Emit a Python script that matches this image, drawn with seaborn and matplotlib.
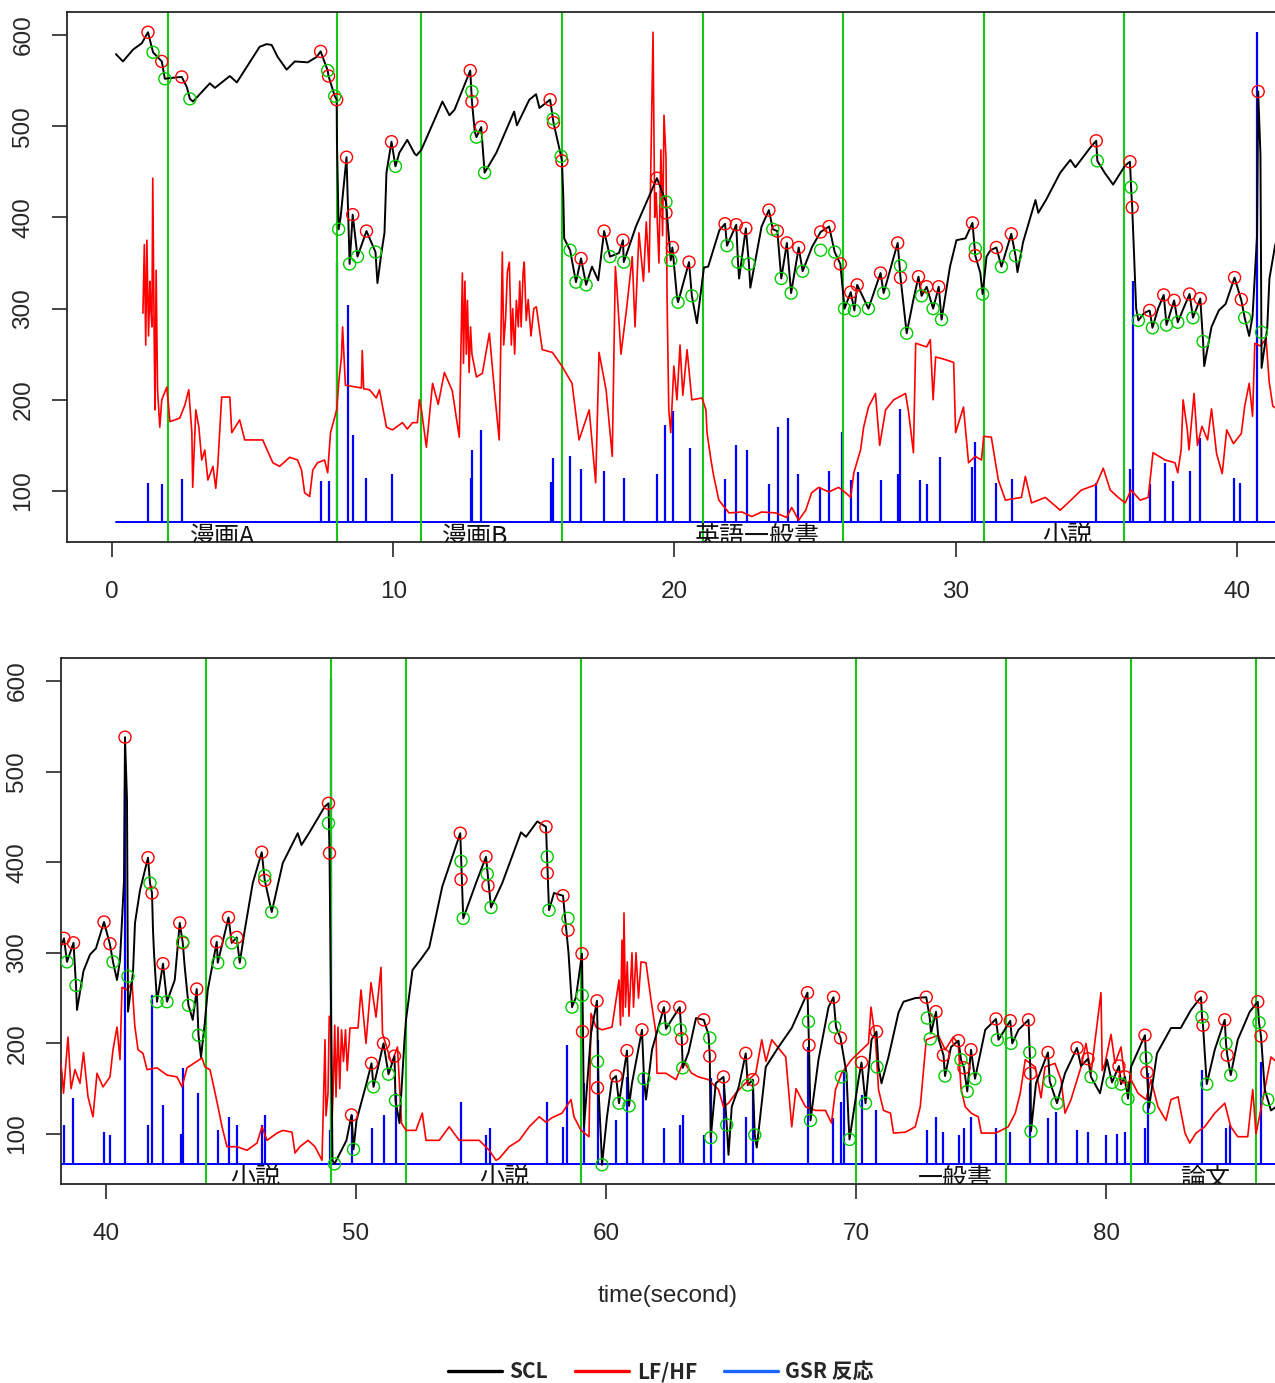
import numpy as np
import pandas as pd
import matplotlib
matplotlib.use("Agg")
import matplotlib.pyplot as plt
from matplotlib.lines import Line2D
import seaborn as sns

# ---------------- data ----------------
# skin conductance level (SCL)
scl_t = [0.14, 0.39, 0.75, 1.06, 1.28, 1.46, 1.77, 1.88, 2.13, 2.48, 2.66, 2.77, 2.88, 3.48, 3.66, 4.19, 4.44,
         5.25, 5.5, 5.68, 5.89, 6.21, 6.5, 6.96, 7.28, 7.42, 7.67, 7.7, 7.92, 7.99, 8.0, 8.06, 8.13, 8.34,
         8.45, 8.56, 8.73, 9.05, 9.37, 9.44, 9.58, 9.69, 9.76, 9.94, 10.08, 10.22, 10.5, 10.76, 10.83, 11.0,
         11.75, 12.0, 12.18, 12.74, 12.8, 12.9, 12.96, 13.13, 13.25, 13.67, 14.3, 14.4, 14.84, 15.08, 15.2,
         15.58, 15.7, 15.97, 16.0, 16.05, 16.08, 16.29, 16.5, 16.68, 16.86, 17.07, 17.29, 17.5, 17.71, 18.03,
         18.17, 18.2, 18.63, 19.0, 19.38, 19.7, 19.87, 19.93, 20.09, 20.13, 20.52, 20.62, 20.8, 21.05, 21.2,
         21.6, 21.8, 21.87, 22.2, 22.26, 22.3, 22.54, 22.65, 22.7, 23.1, 23.36, 23.5, 23.66, 23.8, 24.0, 24.15,
         24.42, 24.56, 24.9, 25.2, 25.5, 25.7, 25.9, 26.05, 26.27, 26.4, 26.5, 26.9, 27.33, 27.44, 27.94,
         28.04, 28.26, 28.5, 28.68, 28.79, 28.97, 29.2, 29.4, 29.5, 29.8, 30.03, 30.35, 30.6, 30.7, 30.88,
         30.96, 31.1, 31.24, 31.45, 31.63, 31.98, 32.13, 32.2, 32.4, 32.84, 32.94, 33.23, 33.72, 34.08, 34.26,
         34.8, 35.0, 35.04, 35.3, 35.6, 36.03, 36.2, 36.24, 36.28, 36.35, 36.42, 36.5, 36.7, 36.9, 37.0, 37.2,
         37.4, 37.5, 37.77, 37.9, 38.1, 38.32, 38.44, 38.7, 38.8, 38.84, 39.1, 39.36, 39.6, 39.92, 40.16,
         40.28, 40.44, 40.56, 40.72, 40.76, 40.84, 40.88, 41.08, 41.16, 41.36, 41.68, 41.76, 41.84, 41.88,
         41.92, 42.04, 42.28, 42.44, 42.75, 42.95, 43.07, 43.15, 43.3, 43.47, 43.63, 43.7, 43.8, 43.95, 44.07,
         44.43, 44.47, 44.9, 45.03, 45.23, 45.35, 45.55, 45.87, 46.23, 46.35, 46.63, 47.07, 47.47, 47.67,
         47.82, 48.14, 48.74, 48.9, 48.94, 49.06, 49.14, 49.62, 49.82, 49.9, 50.02, 50.42, 50.62, 50.7, 51.1,
         51.3, 51.54, 51.58, 51.74, 51.94, 52.0, 52.26, 52.65, 52.93, 53.45, 54.17, 54.29, 54.8, 55.2, 55.4,
         55.85, 56.6, 56.8, 57.25, 57.6, 57.72, 57.92, 58.28, 58.5, 58.64, 58.8, 59.04, 59.08, 59.12, 59.4,
         59.64, 59.7, 59.8, 59.84, 60.04, 60.24, 60.4, 60.52, 60.84, 60.92, 61.04, 61.44, 61.52, 61.6, 61.84,
         62.32, 62.4, 62.6, 62.95, 63.03, 63.07, 63.3, 63.6, 63.91, 64.1, 64.15, 64.19, 64.39, 64.7, 64.83,
         64.9, 65.03, 65.31, 65.59, 65.67, 65.87, 65.95, 66.03, 66.39, 66.9, 67.43, 68.06, 68.12, 68.18, 68.5,
         68.9, 69.1, 69.2, 69.38, 69.62, 69.7, 69.74, 70.1, 70.22, 70.38, 70.62, 70.82, 70.9, 71.02, 71.3,
         71.7, 71.9, 72.37, 72.81, 72.95, 73.0, 73.2, 73.3, 73.5, 73.56, 73.8, 74.1, 74.2, 74.32, 74.45, 74.6,
         74.76, 75.17, 75.6, 75.7, 76.17, 76.25, 76.5, 76.9, 76.95, 76.98, 77.0, 77.2, 77.68, 77.75, 78.04,
         78.36, 78.84, 79.0, 79.28, 79.4, 79.76, 80.04, 80.24, 80.52, 80.6, 80.76, 80.88, 81.0, 81.56, 81.6,
         81.64, 81.72, 82.04, 82.6, 82.99, 83.4, 83.8, 83.84, 83.88, 84.03, 84.35, 84.75, 84.8, 84.85, 84.99,
         85.27, 85.75, 86.07, 86.12, 86.2, 86.35, 86.47, 86.6, 86.8]
scl_v = [579, 571, 584, 591, 603, 581, 571, 552, 553, 554, 543, 530, 527, 547, 542, 555, 548,
         587, 590, 589, 576, 562, 571, 570, 576, 582, 561, 555, 533, 529, 482, 387, 400, 466,
         349, 403, 357, 385, 362, 328, 361, 383, 449, 483, 456, 471, 485, 470, 468, 474,
         527, 512, 518, 561, 527, 494, 488, 499, 449, 471, 516, 501, 529, 535, 520,
         529, 504, 467, 462, 422, 377, 364, 329, 355, 326, 346, 331, 385, 357, 361,
         375, 351, 390, 416, 443, 417, 353, 367, 313, 307, 351, 314, 284, 345, 346,
         386, 393, 369, 392, 351, 333, 388, 349, 323, 390, 408, 387, 385, 333, 372, 317,
         367, 341, 368, 384, 390, 362, 349, 300, 318, 298, 326, 300, 339, 317, 372,
         334, 273, 310, 335, 314, 324, 300, 324, 288, 346, 375, 377, 394, 358, 339,
         316, 357, 364, 367, 346, 382, 358, 340, 373, 419, 405, 420, 449, 463, 455,
         477, 484, 462, 449, 436, 457, 461, 433, 411, 357, 300, 287, 295, 298, 279, 300,
         315, 282, 309, 285, 300, 316, 290, 311, 264, 237, 280, 298, 305, 334, 309,
         290, 270, 292, 380, 538, 469, 235, 278, 333, 369, 405, 377, 366, 325,
         300, 246, 288, 246, 270, 333, 311, 284, 242, 226, 260, 209, 185, 222, 259,
         312, 289, 339, 311, 317, 289, 325, 377, 411, 380, 345, 399, 421, 432,
         419, 433, 461, 465, 410, 71, 67, 93, 121, 83, 115, 156, 178, 152, 200,
         166, 186, 137, 112, 204, 226, 281, 295, 306, 373, 432, 338, 377, 406, 350,
         377, 433, 428, 445, 439, 347, 366, 363, 300, 240, 251, 299, 213, 108, 211,
         247, 150, 93, 66, 119, 160, 164, 134, 192, 131, 156, 215, 161, 138, 193,
         240, 216, 225, 240, 205, 173, 190, 228, 226, 210, 186, 96, 156, 163, 110,
         77, 130, 152, 189, 154, 160, 99, 85, 174, 196, 217, 256, 198, 115, 182,
         240, 251, 218, 206, 167, 115, 94, 160, 179, 134, 204, 213, 174, 156, 185,
         234, 246, 250, 251, 228, 211, 235, 205, 187, 164, 196, 203, 182, 173, 147, 193,
         161, 215, 227, 204, 225, 200, 215, 226, 190, 167, 103, 156, 190, 158, 134,
         167, 195, 175, 183, 163, 145, 182, 157, 175, 155, 163, 139, 174, 209, 184,
         168, 129, 189, 217, 217, 237, 251, 229, 220, 155, 193, 226, 200, 187, 165,
         204, 235, 246, 223, 208, 149, 138, 126, 130]

# detected SCL peaks (red) and troughs (green)
peak_t = [1.28, 1.77, 2.48, 7.42, 7.7, 7.99, 8.34, 8.56, 9.05, 9.94, 12.74, 12.8, 13.13, 15.58, 15.7, 16.0,
          16.68, 17.5, 18.17, 19.38, 19.7, 19.93, 20.52, 21.8, 22.2, 22.54, 23.36, 23.66, 24.0, 24.42, 25.2,
          25.5, 25.9, 26.27, 26.5, 27.33, 27.94, 28.04, 28.68, 28.97, 29.4, 30.6, 30.7, 31.45, 31.98, 35.0,
          36.2, 36.28, 36.9, 37.4, 37.77, 38.32, 38.7, 39.92, 40.16, 40.76, 41.68, 41.84, 42.28, 42.95,
          43.07, 43.63, 44.43, 44.9, 45.23, 46.23, 46.35, 48.9, 48.94, 49.82, 50.62, 51.1, 51.54, 54.17,
          54.2, 55.2, 55.28, 57.6, 57.65, 58.28, 58.48, 59.04, 59.06, 59.64, 59.66, 60.4, 60.84, 61.44,
          62.32, 62.95, 63.03, 63.91, 64.15, 64.7, 65.59, 65.87, 68.06, 68.12, 69.1, 69.38, 70.22, 70.82,
          72.81, 73.2, 73.5, 74.1, 74.32, 74.6, 75.6, 76.17, 76.9, 76.98, 77.68, 78.84, 79.28, 80.52,
          80.76, 81.56, 81.64, 83.8, 83.88, 84.75, 84.85, 86.07, 86.2]
peak_v = [603, 571, 554, 582, 555, 529, 466, 403, 385, 483, 561, 527, 499, 529, 504, 462,
          355, 385, 375, 443, 405, 367, 351, 393, 392, 388, 408, 385, 372, 367, 384,
          390, 349, 318, 326, 339, 372, 334, 335, 324, 324, 394, 358, 367, 382, 484,
          461, 411, 298, 315, 309, 316, 311, 334, 310, 538, 405, 366, 288, 333,
          311, 260, 312, 339, 317, 411, 380, 465, 410, 121, 178, 200, 186, 432,
          381, 406, 374, 439, 388, 363, 325, 299, 213, 247, 151, 164, 192, 215,
          240, 240, 205, 226, 186, 163, 189, 160, 256, 198, 251, 206, 179, 213,
          251, 235, 187, 203, 173, 193, 227, 225, 226, 167, 190, 195, 183, 175,
          163, 209, 168, 251, 220, 226, 187, 246, 208]
trough_t = [1.46, 1.88, 2.77, 7.67, 7.92, 8.06, 8.45, 8.73, 9.37, 10.08, 12.8, 12.96, 13.25, 15.69, 15.97,
            16.29, 16.5, 16.86, 17.71, 18.2, 19.7, 19.87, 20.13, 20.62, 21.87, 22.26, 22.65, 23.5, 23.8,
            24.15, 24.56, 25.2, 25.7, 26.05, 26.4, 26.9, 27.44, 28.04, 28.26, 28.79, 29.2, 29.5, 30.7,
            30.96, 31.63, 32.13, 35.04, 36.24, 36.5, 37.0, 37.5, 37.9, 38.44, 38.8, 40.28, 40.88, 41.76,
            42.04, 42.44, 43.07, 43.3, 43.7, 44.47, 45.03, 45.35, 46.35, 46.63, 48.9, 49.14, 49.9, 50.7,
            51.3, 51.58, 54.2, 54.29, 55.25, 55.4, 57.65, 57.72, 58.48, 58.64, 59.05, 59.66, 59.84, 60.52,
            60.92, 61.52, 62.34, 62.97, 63.07, 64.15, 64.19, 64.83, 65.67, 65.95, 68.1, 68.18, 69.15,
            69.42, 69.74, 70.38, 70.84, 72.85, 72.97, 73.56, 74.2, 74.45, 74.76, 75.65, 76.2, 76.95, 77.0,
            77.75, 78.04, 79.4, 80.24, 80.6, 80.88, 81.6, 81.72, 83.84, 84.03, 84.8, 84.99, 86.12, 86.47]
trough_v = [581, 552, 530, 561, 533, 387, 349, 357, 362, 456, 538, 488, 449, 508, 467,
            364, 329, 326, 357, 351, 417, 353, 307, 314, 369, 351, 349, 387, 333,
            317, 341, 364, 362, 300, 298, 300, 317, 347, 273, 314, 300, 288, 366,
            316, 346, 358, 462, 433, 287, 279, 282, 285, 290, 264, 290, 274, 377,
            246, 246, 312, 242, 209, 289, 311, 289, 385, 345, 443, 67, 83, 152,
            166, 137, 401, 338, 387, 350, 406, 347, 338, 240, 253, 180, 66, 134,
            131, 161, 216, 215, 173, 206, 96, 110, 154, 99, 224, 115, 218,
            163, 94, 134, 174, 228, 205, 164, 182, 147, 161, 204, 200, 190, 103,
            158, 134, 163, 157, 155, 139, 184, 129, 229, 155, 200, 165, 223, 138]

# heart-rate variability ratio LF/HF
lfhf_t = [1.1, 1.15, 1.2, 1.24, 1.3, 1.35, 1.38, 1.42, 1.45, 1.5, 1.53, 1.57, 1.62, 1.7, 1.77, 1.95, 2.06,
          2.41, 2.59, 2.73, 2.84, 2.87, 2.98, 3.09, 3.19, 3.3, 3.41, 3.59, 3.69, 3.76, 3.9, 4.19, 4.26, 4.54,
          4.72, 5.36, 5.72, 5.96, 6.32, 6.6, 6.74, 6.85, 7.03, 7.14, 7.31, 7.56, 7.67, 7.77, 7.99, 8.06, 8.16,
          8.2, 8.3, 8.87, 8.9, 8.95, 9.16, 9.4, 9.51, 9.76, 9.97, 10.33, 10.5, 10.69, 10.86, 10.93, 11.0, 11.18,
          11.4, 11.6, 11.82, 12.1, 12.35, 12.46, 12.5, 12.55, 12.6, 12.64, 12.7, 12.75, 12.8, 12.96, 13.17,
          13.42, 13.6, 13.77, 13.88, 13.93, 14.0, 14.06, 14.13, 14.2, 14.25, 14.32, 14.38, 14.45, 14.5, 14.55,
          14.62, 14.66, 14.73, 14.8, 14.9, 15.0, 15.09, 15.3, 15.66, 16.0, 16.36, 16.61, 16.97, 17.2, 17.32,
          17.57, 17.79, 17.9, 17.96, 18.1, 18.3, 18.5, 18.6, 18.74, 18.9, 19.0, 19.1, 19.24, 19.3, 19.35,
          19.45, 19.52, 19.58, 19.63, 19.7, 19.74, 19.8, 19.87, 19.98, 20.09, 20.2, 20.3, 20.45, 20.62, 20.98,
          21.12, 21.16, 21.3, 21.4, 21.58, 21.94, 22.4, 22.75, 23.1, 23.6, 23.99, 24.17, 24.42, 24.67, 24.88,
          25.13, 25.49, 25.84, 26.09, 26.27, 26.38, 26.62, 26.73, 26.9, 27.15, 27.3, 27.51, 27.8, 28.22,
          28.33, 28.5, 28.58, 28.97, 29.1, 29.2, 29.29, 29.64, 29.93, 30.0, 30.28, 30.46, 30.7, 30.92, 31.0,
          31.27, 31.52, 31.77, 32.34, 32.48, 32.7, 33.19, 33.72, 34.1, 34.47, 35.0, 35.25, 35.5, 35.78, 36.03,
          36.24, 36.56, 36.85, 37.02, 37.45, 37.8, 37.9, 38.02, 38.09, 38.24, 38.3, 38.48, 38.6, 38.76, 38.96,
          39.1, 39.28, 39.48, 39.64, 39.88, 40.16, 40.28, 40.44, 40.56, 40.64, 40.84, 41.04, 41.15, 41.28,
          41.48, 41.64, 42.04, 42.44, 42.84, 43.04, 43.24, 43.84, 43.96, 44.16, 44.28, 44.48, 44.64, 44.84,
          45.24, 45.64, 46.04, 46.24, 46.44, 46.84, 47.08, 47.44, 47.56, 47.76, 48.08, 48.36, 48.64, 48.76,
          48.8, 48.88, 48.93, 49.0, 49.05, 49.1, 49.15, 49.2, 49.28, 49.35, 49.42, 49.5, 49.58, 49.65, 49.76,
          50.08, 50.2, 50.4, 50.6, 50.8, 51.0, 51.06, 51.42, 51.66, 51.82, 52.0, 52.4, 52.65, 52.8, 53.33,
          53.73, 54.13, 54.93, 55.33, 55.6, 55.73, 56.13, 56.53, 56.93, 57.33, 57.6, 57.84, 58.24, 58.6, 58.72,
          59.0, 59.32, 59.4, 59.6, 59.84, 60.24, 60.52, 60.58, 60.64, 60.68, 60.72, 60.78, 60.85, 60.92,
          61.04, 61.1, 61.2, 61.3, 61.4, 61.6, 61.8, 62.0, 62.04, 62.4, 62.8, 63.1, 63.43, 63.7, 64.1, 64.5,
          64.7, 64.9, 65.19, 65.71, 65.99, 66.23, 66.4, 66.63, 67.19, 67.43, 67.6, 67.98, 68.38, 68.78, 69.02,
          69.18, 69.42, 69.82, 70.5, 70.6, 70.78, 70.9, 71.1, 71.38, 71.5, 71.98, 72.37, 72.57, 72.69, 72.81,
          73.29, 73.57, 73.89, 74.09, 74.2, 74.37, 74.61, 74.89, 75.01, 75.57, 75.81, 76.09, 76.37, 76.57,
          76.77, 77.17, 77.4, 77.56, 77.96, 78.2, 78.36, 78.6, 79.0, 79.2, 79.4, 79.8, 79.85, 79.96, 80.2,
          80.36, 80.6, 80.8, 81.0, 81.28, 81.6, 81.8, 82.08, 82.4, 82.6, 82.88, 83.16, 83.35, 83.6, 83.95,
          84.35, 84.75, 84.99, 85.27, 85.67, 85.87, 86.0, 86.35, 86.6, 86.8]
lfhf_v = [295, 370, 260, 375, 270, 330, 300, 280, 443, 270, 189, 342, 211, 170, 200, 214, 176,
          180, 194, 211, 164, 104, 189, 170, 134, 145, 112, 127, 103, 127, 203, 203, 164, 178,
          156, 156, 131, 127, 137, 134, 123, 98, 94, 123, 131, 134, 120, 164, 189, 218, 247,
          280, 216, 213, 254, 212, 211, 202, 211, 170, 167, 175, 168, 175, 175, 200, 190, 148,
          218, 195, 230, 210, 159, 339, 240, 330, 250, 309, 230, 280, 250, 225, 229,
          273, 210, 156, 362, 260, 291, 340, 351, 260, 300, 250, 309, 280, 330, 280,
          340, 351, 287, 310, 270, 300, 302, 255, 252, 237, 218, 156, 189, 109, 252,
          211, 138, 346, 320, 250, 300, 357, 280, 383, 330, 395, 340, 603, 400, 427,
          350, 474, 380, 512, 466, 309, 189, 164, 237, 200, 260, 205, 255, 200, 202,
          189, 164, 134, 116, 90, 76, 77, 72, 77, 76, 71, 82, 68, 79, 98,
          104, 99, 104, 98, 93, 120, 145, 170, 192, 207, 150, 189, 200, 207,
          186, 142, 262, 258, 266, 200, 247, 244, 241, 164, 192, 131, 138, 134, 160,
          159, 112, 90, 93, 116, 87, 93, 79, 90, 101, 107, 125, 101, 93, 87,
          101, 90, 93, 142, 134, 131, 120, 145, 200, 167, 145, 207, 150, 171, 156,
          190, 141, 119, 167, 152, 163, 193, 218, 182, 262, 259, 267, 220, 193,
          189, 171, 173, 165, 163, 152, 173, 184, 174, 171, 156, 130, 108, 86,
          86, 82, 90, 108, 93, 101, 104, 102, 79, 86, 93, 86, 71, 204,
          120, 145, 230, 218, 120, 160, 220, 141, 218, 150, 215, 180, 215, 170, 217,
          217, 259, 200, 267, 229, 284, 211, 178, 196, 112, 104, 104, 123, 93, 93,
          108, 93, 93, 82, 71, 73, 86, 93, 108, 119, 113, 118, 123, 138, 119,
          104, 97, 233, 218, 215, 218, 270, 220, 314, 230, 344, 240, 290, 230,
          300, 240, 300, 250, 290, 289, 248, 211, 167, 167, 160, 180, 167, 163, 160, 149,
          130, 134, 145, 160, 167, 204, 180, 204, 185, 108, 150, 130, 126, 126, 112,
          149, 167, 182, 200, 240, 204, 149, 126, 123, 101, 102, 108, 130, 167, 204,
          209, 193, 207, 200, 150, 130, 123, 119, 101, 101, 104, 108, 123, 145,
          182, 174, 140, 174, 178, 160, 123, 138, 174, 200, 167, 256, 170, 178, 210,
          178, 196, 150, 160, 145, 138, 160, 130, 115, 138, 141, 101, 90, 101, 108,
          123, 134, 108, 97, 97, 149, 100, 149, 185, 180]

# GSR responses (spike heights), one list per panel
gsr_top_t = [1.28, 1.77, 2.48, 7.45, 7.7, 7.99, 8.38, 8.56, 9.05, 9.94, 12.78, 12.82, 13.13, 15.62, 15.69,
             16.29, 16.68, 17.5, 18.2, 19.38, 19.67, 19.95, 20.55, 21.8, 22.19, 22.58, 23.36, 23.68, 24.03,
             24.39, 25.17, 25.49, 25.95, 26.27, 26.52, 27.33, 27.94, 28.04, 28.72, 28.97, 29.43, 30.6, 30.7,
             31.45, 32.02, 35.0, 36.21, 36.32, 36.92, 37.45, 37.73, 38.34, 38.69, 39.9, 40.11, 40.72]
gsr_top_v = [109, 108, 113, 111, 111, 351, 304, 161, 114, 119, 114, 145, 167, 110, 136,
             138, 124, 122, 114, 119, 172, 188, 147, 113, 150, 145, 108, 170, 180,
             119, 104, 122, 165, 112, 121, 112, 119, 190, 112, 108, 137, 126, 154,
             109, 113, 109, 124, 330, 108, 131, 111, 122, 158, 114, 109, 603]
gsr_bot_t = [38.32, 38.68, 39.92, 40.16, 40.76, 41.68, 41.84, 42.28, 43.0, 43.07, 43.67, 44.47, 44.91, 45.23,
             46.23, 46.35, 48.94, 48.98, 49.82, 50.62, 51.1, 51.58, 54.21, 55.2, 55.37, 57.65, 58.28, 58.44,
             59.12, 59.68, 60.4, 60.84, 61.48, 62.32, 62.95, 63.07, 63.91, 64.19, 64.71, 65.59, 65.87, 68.1,
             69.1, 69.38, 69.5, 70.22, 70.82, 72.85, 73.21, 73.49, 74.13, 74.33, 74.61, 75.61, 76.17, 76.97,
             77.68, 78.0, 78.84, 79.28, 80.0, 80.44, 80.76, 81.56, 81.68, 83.83, 84.79, 84.95, 86.2]
gsr_bot_v = [110, 140, 102, 99, 482, 110, 253, 132, 100, 173, 145, 104, 119, 110,
             110, 121, 104, 603, 121, 107, 121, 145, 135, 99, 107, 135, 108, 198,
             156, 204, 115, 163, 167, 107, 110, 121, 99, 162, 156, 119, 160, 196,
             118, 135, 171, 143, 126, 104, 119, 102, 99, 107, 119, 107, 102, 156,
             118, 124, 104, 102, 99, 100, 102, 107, 167, 171, 107, 110, 179]
gsr_base = 66.5

# task boundaries and task names
bounds_top = [2, 8, 11, 16, 21, 26, 31, 36]
bounds_bot = [44, 49, 52, 59, 70, 76, 81, 86]
task_names_top = ["漫画A", "漫画B", "英語一般書", "小説"]
task_pos_top = [3.95, 12.93, 22.93, 33.97]
task_names_bot = ["小説", "小説", "一般書", "論文"]
task_pos_bot = [45.95, 55.93, 73.97, 83.95]

xticks_top = [0, 10, 20, 30, 40]
xticks_bot = [40, 50, 60, 70, 80]
yticks = [100, 200, 300, 400, 500, 600]

# ---------------- drawing ----------------
sns.set_style("white")
plt.rcParams["font.family"] = ["Liberation Sans", "DejaVu Sans"]

W, H = 1275, 1383
fig = plt.figure(figsize=(W / 100, H / 100), dpi=100)

scl = pd.DataFrame({"t": scl_t, "v": scl_v})
lfhf = pd.DataFrame({"t": lfhf_t, "v": lfhf_v})
peaks = pd.DataFrame({"t": peak_t, "v": peak_v})
troughs = pd.DataFrame({"t": trough_t, "v": trough_v})
base_df = pd.DataFrame({"t": [scl_t[0], scl_t[-1]], "v": [gsr_base, gsr_base]})

GREEN = "#14c814"
TICK_COL = "#262626"


def make_axes(left_px, top_px, bottom_px):
    right_px = W + 4
    return fig.add_axes([left_px / W, 1 - bottom_px / H,
                         (right_px - left_px) / W, (bottom_px - top_px) / H])


def draw_panel(ax, xlim, ylim, xticks, bounds, gsr_t, gsr_v, names, name_pos):
    # GSR spikes with their baseline
    ax.vlines(gsr_t, gsr_base, gsr_v, colors="#0000ff", linewidth=1.6, zorder=2)
    sns.lineplot(data=base_df, x="t", y="v", ax=ax, color="#0000ff", linewidth=1.4,
                 estimator=None, sort=False, zorder=2)
    # task boundaries
    for b in bounds:
        ax.axvline(b, color=GREEN, linewidth=1.5, zorder=2.5)
    # LF/HF and SCL traces
    sns.lineplot(data=lfhf, x="t", y="v", ax=ax, color="#ff0000", linewidth=1.2,
                 estimator=None, sort=False, zorder=3)
    sns.lineplot(data=scl, x="t", y="v", ax=ax, color="#000000", linewidth=1.4,
                 estimator=None, sort=False, zorder=4)
    # peak / trough markers
    sns.scatterplot(data=peaks, x="t", y="v", ax=ax, marker="o", s=75,
                    facecolors="none", edgecolors="#ff0000", linewidths=1.0, zorder=5)
    sns.scatterplot(data=troughs, x="t", y="v", ax=ax, marker="o", s=75,
                    facecolors="none", edgecolors="#00cc00", linewidths=1.0, zorder=5)
    # task names sit on the bottom edge and are cut by it
    for name, pos in zip(names, name_pos):
        ax.text(pos, 50, name, ha="center", va="center", fontsize=18, color="#111111",
                family=["Noto Sans CJK JP", "DejaVu Sans"], clip_on=True, zorder=6)

    ax.set_xlim(*xlim)
    ax.set_ylim(*ylim)
    ax.set_xticks(xticks)
    ax.set_yticks(yticks)
    ax.set_xlabel("")
    ax.set_ylabel("")
    ax.tick_params(axis="x", bottom=True, direction="out", length=10.5, width=1.2, color=TICK_COL,
                   pad=17.5, labelsize=17.5, labelcolor=TICK_COL)
    ax.tick_params(axis="y", left=True, direction="out", length=10.5, width=1.2, color=TICK_COL,
                   pad=13, labelsize=17.5, labelcolor=TICK_COL, labelrotation=90)
    for lab in ax.get_yticklabels():
        lab.set_va("center")
        lab.set_ha("right")
    for side in ["left", "right", "top", "bottom"]:
        ax.spines[side].set_color(TICK_COL)
        ax.spines[side].set_linewidth(1.3)
    ax.grid(False)


ax_top = make_axes(67, 12, 542)
draw_panel(ax_top, (-1.6, 41.5), (44.1, 625.2), xticks_top, bounds_top,
           gsr_top_t, gsr_top_v, task_names_top, task_pos_top)

ax_bot = make_axes(61, 658, 1184)
draw_panel(ax_bot, (38.2, 86.92), (44.8, 625.4), xticks_bot, bounds_bot,
           gsr_bot_t, gsr_bot_v, task_names_bot, task_pos_bot)

fig.text(668 / W, 1 - 1296 / H, "time(second)", ha="center", va="center",
         fontsize=17.5, color=TICK_COL)

handles = [Line2D([], [], color="#000000", linewidth=2.4),
           Line2D([], [], color="#ff0000", linewidth=2.4),
           Line2D([], [], color="#1a66ff", linewidth=2.4)]
fig.legend(handles, ["SCL", "LF/HF", "GSR 反応"], loc="center",
           bbox_to_anchor=(661 / W, 1 - 1372 / H), ncol=3, frameon=False,
           handlelength=2.6, handletextpad=0.35, columnspacing=1.3,
           prop={"family": ["Noto Sans CJK JP", "DejaVu Sans"], "weight": "bold", "size": 15})

fig.savefig("out.png", dpi=100)
